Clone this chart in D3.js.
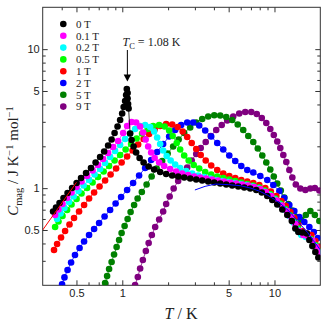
<!DOCTYPE html>
<html>
<head>
<meta charset="utf-8">
<style>
  body { margin: 0; background: #fff; }
  svg { display: block; font-family: 'Liberation Serif', 'Times New Roman', serif; }
  .axis text { font-size: 11px; fill: #222; }
  .axis line { stroke: #333; }
  .axis .domain { display: none; }
</style>
</head>
<body>
<svg width="330" height="323"></svg>
<script src="https://d3js.org/d3.v7.min.js"></script>
<script>
// fields and colours, legend order
let fields = ["0 T", "0.1 T", "0.2 T", "0.5 T", "1 T", "2 T", "5 T", "9 T"]
let colors = ["#000000", "#ff00ff", "#00ffff", "#00ff00", "#ff0000", "#0000ff", "#008000", "#800080"]

// [T (K), Cmag (J K-1 mol-1)]
let data0T = [[0.351,0.679],[0.367,0.726],[0.387,0.782],[0.411,0.849],[0.437,0.922],[0.468,1.003],[0.501,1.089],[0.536,1.183],[0.578,1.285],[0.623,1.396],[0.668,1.529],[0.715,1.674],[0.76,1.835],[0.807,2.027],[0.851,2.238],[0.89,2.493],[0.931,2.776],[0.968,3.092],[0.998,3.444],[1.021,3.835],[1.044,4.236],[1.06,4.678],[1.071,5.167],[1.084,4.836],[1.084,4.415],[1.092,4.03],[1.1,3.74],[1.126,2.472],[1.151,2.22],[1.187,1.994],[1.233,1.805],[1.3,1.647],[1.381,1.529],[1.49,1.432],[1.619,1.361],[1.774,1.306],[1.942,1.264],[2.128,1.233],[2.329,1.212],[2.551,1.193],[2.794,1.173],[3.06,1.153],[3.351,1.135],[3.669,1.116],[4.02,1.098],[4.401,1.08],[4.821,1.062],[5.277,1.045],[5.782,1.028],[6.33,1.011],[6.93,0.994],[7.593,0.97],[8.253,0.93],[8.97,0.878],[9.678,0.822],[10.43,0.763],[11.26,0.702],[12.14,0.641],[13.0,0.58],[13.71,0.512],[14.35,0.484],[15.24,0.48],[16.32,0.472],[16.95,0.424],[17.74,0.383],[18.56,0.347],[19.42,0.317]]

let data01T = [[0.362,0.641],[0.381,0.702],[0.405,0.769],[0.434,0.849],[0.464,0.93],[0.501,1.019],[0.54,1.116],[0.587,1.222],[0.638,1.34],[0.693,1.467],[0.748,1.621],[0.807,1.79],[0.87,1.976],[0.939,2.183],[1.013,2.493],[1.076,2.799],[1.151,2.991],[1.233,2.966],[1.31,2.776],[1.371,2.514],[1.424,2.238],[1.479,1.994],[1.548,1.805],[1.632,1.647],[1.747,1.529],[1.884,1.443],[2.064,1.373],[2.26,1.317],[2.475,1.275],[2.711,1.243],[2.968,1.212],[3.25,1.193],[3.561,1.173],[3.9,1.153],[4.27,1.135],[4.677,1.116],[5.122,1.098],[5.61,1.08],[6.142,1.062],[6.726,1.045],[7.366,1.019],[8.07,0.986],[8.77,0.938],[9.53,0.878],[10.36,0.815],[11.17,0.75],[12.05,0.685],[12.9,0.62],[13.71,0.552],[14.57,0.492],[15.47,0.46],[16.57,0.449],[17.74,0.42],[18.84,0.377],[19.72,0.344]]

let data02T = [[0.373,0.6],[0.393,0.657],[0.417,0.72],[0.447,0.795],[0.479,0.871],[0.516,0.954],[0.557,1.045],[0.605,1.144],[0.658,1.254],[0.715,1.373],[0.771,1.516],[0.832,1.674],[0.897,1.85],[0.968,2.044],[1.044,2.257],[1.126,2.472],[1.214,2.664],[1.31,2.799],[1.413,2.846],[1.524,2.753],[1.619,2.556],[1.695,2.314],[1.774,2.077],[1.856,1.866],[1.957,1.703],[2.079,1.581],[2.226,1.479],[2.401,1.396],[2.63,1.328],[2.88,1.275],[3.153,1.233],[3.453,1.202],[3.783,1.173],[4.143,1.144],[4.536,1.125],[4.968,1.107],[5.441,1.089],[5.96,1.071],[6.526,1.054],[7.147,1.028],[7.827,0.994],[8.505,0.946],[9.245,0.893],[10.05,0.828],[10.84,0.763],[11.69,0.696],[12.52,0.63],[13.3,0.566],[14.13,0.504],[15.01,0.46],[16.07,0.445],[17.21,0.424],[18.42,0.383],[19.58,0.347]]

let data05T = [[0.362,0.525],[0.381,0.576],[0.405,0.63],[0.434,0.696],[0.464,0.763],[0.501,0.835],[0.54,0.915],[0.587,1.003],[0.638,1.098],[0.693,1.202],[0.754,1.317],[0.819,1.443],[0.89,1.581],[0.968,1.732],[1.052,1.897],[1.143,2.077],[1.242,2.276],[1.35,2.472],[1.468,2.664],[1.595,2.799],[1.747,2.846],[1.898,2.776],[2.032,2.598],[2.143,2.372],[2.278,2.112],[2.401,1.897],[2.551,1.717],[2.731,1.581],[2.946,1.467],[3.202,1.384],[3.507,1.306],[3.84,1.254],[4.206,1.212],[4.607,1.183],[5.046,1.153],[5.524,1.125],[6.051,1.098],[6.628,1.071],[7.257,1.045],[7.947,1.011],[8.637,0.962],[9.387,0.908],[10.13,0.842],[10.92,0.776],[11.78,0.708],[12.61,0.641],[13.4,0.576],[14.24,0.517],[15.13,0.476],[16.19,0.456],[17.34,0.431],[18.56,0.39],[19.58,0.353]]

let data1T = [[0.356,0.359],[0.373,0.396],[0.396,0.441],[0.421,0.492],[0.45,0.548],[0.482,0.61],[0.52,0.679],[0.561,0.756],[0.605,0.842],[0.653,0.93],[0.709,1.028],[0.771,1.135],[0.838,1.254],[0.911,1.384],[0.99,1.529],[1.076,1.689],[1.169,1.866],[1.271,2.06],[1.381,2.257],[1.501,2.452],[1.632,2.642],[1.774,2.799],[1.942,2.894],[2.128,2.87],[2.312,2.753],[2.493,2.556],[2.67,2.333],[2.858,2.112],[3.06,1.912],[3.276,1.732],[3.534,1.581],[3.84,1.455],[4.206,1.351],[4.607,1.275],[5.046,1.222],[5.524,1.183],[6.051,1.144],[6.628,1.116],[7.257,1.089],[7.947,1.054],[8.703,1.003],[9.46,0.946],[10.28,0.878],[11.09,0.808],[11.87,0.744],[12.71,0.673],[13.5,0.61],[14.35,0.543],[15.24,0.492],[16.32,0.472],[17.47,0.46],[18.56,0.417],[19.58,0.377]]

let data2T = [[0.402,0.203],[0.417,0.228],[0.437,0.258],[0.461,0.292],[0.489,0.33],[0.524,0.371],[0.561,0.413],[0.605,0.46],[0.653,0.508],[0.704,0.561],[0.765,0.625],[0.832,0.696],[0.904,0.776],[0.982,0.864],[1.076,0.97],[1.178,1.089],[1.29,1.233],[1.413,1.396],[1.548,1.594],[1.695,1.82],[1.856,2.077],[2.032,2.352],[2.226,2.62],[2.438,2.846],[2.67,2.966],[2.924,2.966],[3.202,2.822],[3.507,2.598],[3.84,2.352],[4.206,2.112],[4.607,1.897],[5.046,1.717],[5.524,1.567],[6.051,1.443],[6.628,1.351],[7.257,1.295],[8.07,1.222],[8.97,1.144],[9.82,1.054],[10.76,0.954],[11.6,0.849],[12.52,0.756],[13.5,0.685],[14.57,0.62],[15.71,0.571],[16.95,0.525],[18.14,0.484],[19.28,0.438]]

let data5T = [[0.771,0.208],[0.795,0.233],[0.819,0.262],[0.851,0.294],[0.883,0.333],[0.918,0.377],[0.953,0.424],[0.99,0.476],[1.036,0.534],[1.084,0.6],[1.134,0.673],[1.196,0.756],[1.261,0.842],[1.344,0.938],[1.445,1.062],[1.559,1.212],[1.682,1.384],[1.828,1.567],[1.987,1.775],[2.159,1.994],[2.347,2.238],[2.551,2.493],[2.794,2.731],[3.06,2.966],[3.351,3.144],[3.669,3.276],[4.02,3.342],[4.401,3.332],[4.821,3.25],[5.277,3.092],[5.736,2.869],[6.234,2.62],[6.726,2.372],[7.257,2.147],[7.77,1.929],[8.316,1.717],[8.835,1.529],[9.387,1.361],[9.897,1.212],[10.43,1.08],[11.0,0.962],[11.6,0.857],[12.33,0.769],[13.1,0.691],[14.03,0.62],[15.01,0.59],[16.07,0.641],[17.21,0.685],[18.42,0.641],[19.72,0.58]]

let data9T = [[1.214,0.201],[1.265,0.2295],[1.31,0.264],[1.365,0.304],[1.428,0.353],[1.49,0.403],[1.564,0.46],[1.645,0.525],[1.747,0.595],[1.856,0.679],[1.942,0.769],[2.048,0.871],[2.176,0.994],[2.329,1.125],[2.493,1.264],[2.67,1.408],[2.858,1.581],[3.06,1.76],[3.276,1.945],[3.534,2.147],[3.81,2.372],[4.143,2.62],[4.503,2.846],[4.893,3.066],[5.358,3.276],[5.868,3.444],[6.426,3.53],[7.038,3.53],[7.65,3.415],[8.253,3.196],[8.835,2.942],[9.387,2.664],[9.897,2.412],[10.43,2.165],[10.92,1.945],[11.43,1.732],[11.96,1.542],[12.52,1.351],[13.1,1.193],[13.81,1.062],[14.79,0.994],[15.96,0.97],[17.21,0.994],[18.42,1.003],[19.72,0.962]]

// T^n fit at low T (red) and model curve at high T (blue)
let fitLow = [[0.3, 0.5], [0.5, 1.1]]
let modelHigh = [[3.0,0.97],[3.5,1.03],[4.1,1.07],[5.0,1.06],[6.0,1.04],[7.0,1.0],[8.0,0.95],[9.0,0.89],[10.0,0.83],[11.0,0.77],[12.0,0.71],[13.0,0.65],[14.0,0.59],[15.0,0.54],[16.5,0.48],[18.0,0.42],[20.0,0.36]]

let xMajor = [0.5, 1, 5, 10]
let xMinor = [0.4, 0.6, 0.7, 0.8, 0.9, 2, 3, 4, 6, 7, 8, 9]
let yMajor = [0.5, 1, 5, 10]
let yMinor = [0.3, 0.4, 0.6, 0.7, 0.8, 0.9, 2, 3, 4, 6, 7, 8, 9]

let series = [data0T, data01T, data02T, data05T, data1T, data2T, data5T, data9T]

let svg = d3.select("svg")
let margin = { top: 7.3, right: 9.7, bottom: 37.7, left: 42.7 }
let width = 330, height = 323

let x = d3.scaleLog()
    .domain([0.3, 20])
    .range([margin.left, width - margin.right])

let y = d3.scaleLog()
    .domain([0.2, 20])
    .range([height - margin.bottom, margin.top])

svg.append("clipPath").attr("id", "plot-clip")
    .append("rect")
    .attr("x", margin.left).attr("y", margin.top)
    .attr("width", width - margin.left - margin.right)
    .attr("height", height - margin.top - margin.bottom)

// axes, ticks pointing inward
let bottom = height - margin.bottom
let right = width - margin.right

svg.append("g").attr("class", "axis")
    .attr("transform", `translate(0,${bottom})`)
    .call(d3.axisBottom(x).tickValues(xMajor).tickSize(-5).tickPadding(4).tickFormat(d => d))
svg.append("g").attr("class", "axis")
    .attr("transform", `translate(0,${bottom})`)
    .call(d3.axisBottom(x).tickValues(xMinor).tickSize(-3).tickFormat(""))
svg.append("g").attr("class", "axis")
    .attr("transform", `translate(0,${margin.top})`)
    .call(d3.axisTop(x).tickValues(xMajor).tickSize(-5).tickFormat(""))
svg.append("g").attr("class", "axis")
    .attr("transform", `translate(0,${margin.top})`)
    .call(d3.axisTop(x).tickValues(xMinor).tickSize(-3).tickFormat(""))

svg.append("g").attr("class", "axis")
    .attr("transform", `translate(${margin.left},0)`)
    .call(d3.axisLeft(y).tickValues(yMajor).tickSize(-5).tickPadding(3).tickFormat(d => d))
svg.append("g").attr("class", "axis")
    .attr("transform", `translate(${margin.left},0)`)
    .call(d3.axisLeft(y).tickValues(yMinor).tickSize(-3).tickFormat(""))
svg.append("g").attr("class", "axis")
    .attr("transform", `translate(${right},0)`)
    .call(d3.axisRight(y).tickValues(yMajor).tickSize(-5).tickFormat(""))
svg.append("g").attr("class", "axis")
    .attr("transform", `translate(${right},0)`)
    .call(d3.axisRight(y).tickValues(yMinor).tickSize(-3).tickFormat(""))

svg.append("rect")
    .attr("x", margin.left).attr("y", margin.top)
    .attr("width", right - margin.left)
    .attr("height", bottom - margin.top)
    .style("fill", "none")
    .style("stroke", "#333")
    .style("stroke-width", 1)

let line = d3.line()
    .x(d => x(d[0]))
    .y(d => y(d[1]))

let plot = svg.append("g").attr("clip-path", "url(#plot-clip)")

// 9 T drawn first so 0 T ends up on top
for (let i = series.length - 1; i >= 0; i--) {
    let g = plot.append("g")
    g.append("path")
        .attr("d", line(series[i]))
        .style("fill", "none")
        .style("stroke", colors[i])
        .style("stroke-width", 0.8)
    g.selectAll("circle")
        .data(series[i])
        .join("circle")
        .attr("cx", d => x(d[0]))
        .attr("cy", d => y(d[1]))
        .attr("r", 3.3)
        .style("fill", colors[i])
}

plot.append("path")
    .attr("d", line(fitLow))
    .style("fill", "none")
    .style("stroke", "#ff0000")
    .style("stroke-width", 1)

plot.append("path")
    .attr("d", line(modelHigh))
    .style("fill", "none")
    .style("stroke", "#0000ff")
    .style("stroke-width", 1)

// legend
let legend = svg.append("g")
fields.forEach((f, i) => {
    let ly = 24 + i * 11.8
    legend.append("circle")
        .attr("cx", 63.3).attr("cy", ly).attr("r", 3.3)
        .style("fill", colors[i])
    legend.append("text")
        .attr("x", 76).attr("y", ly + 3.8)
        .style("font-size", "11px")
        .style("fill", "#222")
        .text(f)
})

// Tc annotation
let tc = svg.append("text")
    .attr("x", 122.5).attr("y", 46)
    .style("font-size", "12px")
    .style("fill", "#222")
tc.append("tspan").style("font-style", "italic").text("T")
tc.append("tspan").attr("dy", 3).style("font-size", "8.5px").text("C")
tc.append("tspan").attr("dy", -3).text(" = 1.08 K")

svg.append("line")
    .attr("x1", x(1.08)).attr("x2", x(1.08))
    .attr("y1", 50).attr("y2", 75)
    .style("stroke", "#000")
    .style("stroke-width", 1)
svg.append("path")
    .attr("d", `M${x(1.08) - 3.7},74.5 L${x(1.08) + 3.7},74.5 L${x(1.08)},81.5 Z`)
    .style("fill", "#000")

// axis titles
let xt = svg.append("text")
    .attr("x", 181).attr("y", 319)
    .attr("text-anchor", "middle")
    .style("font-size", "16px")
    .style("fill", "#222")
xt.append("tspan").style("font-style", "italic").text("T")
xt.append("tspan").text(" / K")

let yt = svg.append("text")
    .attr("transform", "translate(18,161) rotate(-90)")
    .attr("text-anchor", "middle")
    .style("font-size", "15px")
    .style("fill", "#222")
yt.append("tspan").style("font-style", "italic").text("C")
yt.append("tspan").attr("dy", 3.5).style("font-size", "10.5px").text("mag")
yt.append("tspan").attr("dy", -3.5).text(" / J K")
yt.append("tspan").attr("dy", -5).style("font-size", "10.5px").text("−1")
yt.append("tspan").attr("dy", 5).text(" mol")
yt.append("tspan").attr("dy", -5).style("font-size", "10.5px").text("−1")
</script>
</body>
</html>
